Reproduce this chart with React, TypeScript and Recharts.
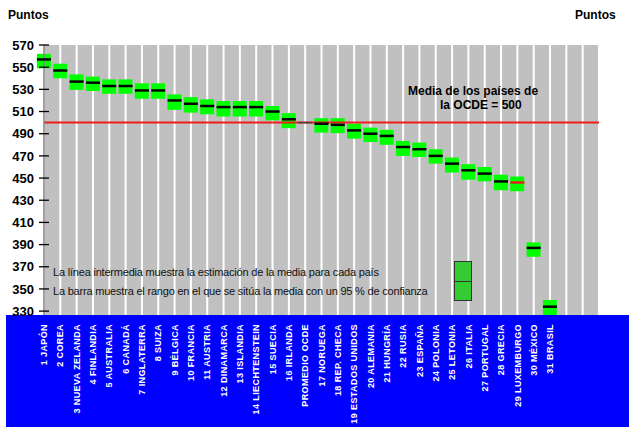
import React from "react";
import {Bar, CartesianGrid, ComposedChart, Line, Scatter, XAxis, YAxis} from "recharts";

const paises = ["1 JAPÓN", "2 COREA", "3 NUEVA ZELANDA", "4 FINLANDIA", "5 AUSTRALIA", "6 CANADÁ",
    "7 INGLATERRA", "8 SUIZA", "9 BÉLGICA", "10 FRANCIA", "11 AUSTRIA", "12 DINAMARCA", "13 ISLANDIA",
    "14 LIECHTENSTEIN", "15 SUECIA", "16 IRLANDA", "PROMEDIO OCDE", "17 NORUEGA", "18 REP. CHECA",
    "19 ESTADOS UNIDOS", "20 ALEMANIA", "21 HUNGRÍA", "22 RUSIA", "23 ESPAÑA", "24 POLONIA", "25 LETONIA",
    "26 ITALIA", "27 PORTUGAL", "28 GRECIA", "29 LUXEMBURGO", "30 MÉXICO", "31 BRASIL"];
const medias = [557, 547, 537, 536, 533, 533, 529, 529, 520, 517, 515, 514, 514, 514, 510, 503, 500, 499, 498,
    493, 490, 488, 478, 476, 470, 463, 457, 454, 447, 446, 387, 334];
const limInf = [549, 540, 529.5, 528.5, 526, 526, 521.5, 521.5, 511.5, 509, 507.5, 505.5, 505.5, 505.5, 502, 495,
    null, 491, 490.5, 485.5, 482.5, 480, 470, 469, 463, 455, 448.5, 447, 439, 438, 379, 326.5];
const limSup = [562, 553, 543.5, 541.5, 539, 539, 535.5, 535.5, 525.5, 523, 521, 519.5, 519.5, 519.5, 515, 508.5,
    null, 504, 504, 499, 495.5, 493.5, 483.5, 482, 476, 468.5, 462.5, 460, 453, 451.5, 392, 340];
const mediaOCDE = 500;
const ticksY = [330, 350, 370, 390, 410, 430, 450, 470, 490, 510, 530, 550, 570];
// 32 countries + 3 empty slots on the right
const posiciones = Array.from({length: 35}, (_, i) => i);

const data = posiciones.map(i => ({
    idx: i,
    pais: paises[i] ?? null,
    media: medias[i] ?? null,
    caja: limInf[i] == null ? null : [limInf[i], limSup[i]],
    ocde: mediaOCDE,
}));

const font = "'Liberation Sans', Arial, sans-serif";

const LeftTick = ({x, y, payload}: any) => <g>
    <line x1={x - 5} x2={x + 5} y1={y} y2={y} stroke="#000" strokeWidth={1.3}/>
    <text x={x - 10} y={y} dy="0.36em" textAnchor="end" fontSize={13} fontWeight="bold" fontFamily={font}
          fill="#000">{payload.value}</text>
</g>;

const RightTick = ({x, y, payload}: any) =>
    <text x={x + 11} y={y} dy="0.36em" textAnchor="start" fontSize={13} fontWeight="bold" fontFamily={font}
          fill="#000">{payload.value}</text>;

const BottomTick = ({x, y, payload}: any) => {
    const label = paises[payload.value];
    if (!label) return null;
    return <text x={x} y={y + 9} dy="0.35em" transform={`rotate(-90, ${x}, ${y + 9})`} textAnchor="end"
                 fontSize={9} fontWeight="bold" fontFamily={font} fill="#fff" letterSpacing={0.4}>{label}</text>;
};

const MeanMark = ({cx, cy, payload}: any) => {
    if (payload == null || payload.media == null || !isFinite(cx) || !isFinite(cy)) return null;
    if (payload.pais === "PROMEDIO OCDE")
        return <line x1={cx - 7} x2={cx + 7} y1={cy} y2={cy} stroke="#444" strokeWidth={1.5}/>;
    const color = payload.pais === "29 LUXEMBURGO" ? "#e8201a" : "#000";
    return <line x1={cx - 7} x2={cx + 7} y1={cy} y2={cy} stroke={color} strokeWidth={2.5}/>;
};

const txt = (extra: React.CSSProperties): React.CSSProperties => ({
    position: "absolute", fontFamily: font, color: "#000", whiteSpace: "nowrap", lineHeight: 1, ...extra
});

export default function App() {
    return <div style={{position: "absolute", left: 0, top: 0, width: 632, height: 427, background: "#fff"}}>
        <div style={{position: "absolute", left: 6, top: 315, width: 623, height: 112, background: "#0000ff"}}/>
        <div style={{position: "absolute", left: 0, top: 0}}>
            <ComposedChart width={632} height={427} data={data} margin={{top: 45, right: 0, bottom: 0, left: 0}}>
                <CartesianGrid horizontal={false} vertical stroke="#fff" strokeWidth={2} fill="#c0c0c0"/>
                <XAxis dataKey="idx" type="number" domain={[0, 34]} ticks={posiciones} interval={0}
                       axisLine={false} tickLine={false} tickSize={0} tickMargin={0} height={112}
                       tick={<BottomTick/>}/>
                <YAxis yAxisId="left" domain={[330, 570]} ticks={ticksY} interval={0} width={44}
                       axisLine={{stroke: "#808080", strokeWidth: 1.5}} tickLine={false} tickSize={0}
                       tickMargin={0} tick={<LeftTick/>}/>
                <YAxis yAxisId="right" orientation="right" domain={[330, 570]} ticks={ticksY} interval={0}
                       width={33} axisLine={false} tickLine={false} tickSize={0} tickMargin={0}
                       tick={<RightTick/>}/>
                <Line yAxisId="left" dataKey="ocde" stroke="#f01c1c" strokeWidth={2} dot={false}
                      activeDot={false} isAnimationActive={false}/>
                <Bar yAxisId="left" dataKey="caja" barSize={14} fill="#00ff00" isAnimationActive={false}/>
                <Scatter yAxisId="left" dataKey="media" shape={<MeanMark/>} isAnimationActive={false}/>
            </ComposedChart>
        </div>
        <div style={txt({left: 8, top: 9, fontSize: 12, fontWeight: "bold"})}>Puntos</div>
        <div style={txt({left: 575, top: 9, fontSize: 12, fontWeight: "bold"})}>Puntos</div>
        <div style={txt({left: 408, top: 85, fontSize: 12, fontWeight: "bold"})}>Media de los países de</div>
        <div style={txt({left: 440, top: 99, fontSize: 12, fontWeight: "bold"})}>la OCDE = 500</div>
        <div style={txt({left: 53, top: 267, fontSize: 11, letterSpacing: -0.2, color: "#111"})}>
            La línea intermedia muestra la estimación de la media para cada país
        </div>
        <div style={txt({left: 53, top: 286, fontSize: 11, letterSpacing: -0.2, color: "#111"})}>
            La barra muestra el rango en el que se sitúa la media con un 95 % de confianza
        </div>
        <div style={{
            position: "absolute", left: 454, top: 261, width: 16, height: 38,
            border: "1.5px solid #333", background: "#33cc33"
        }}>
            <div style={{position: "absolute", left: 0, top: 18.5, width: 16, height: 1.5, background: "#333"}}/>
        </div>
    </div>;
}
